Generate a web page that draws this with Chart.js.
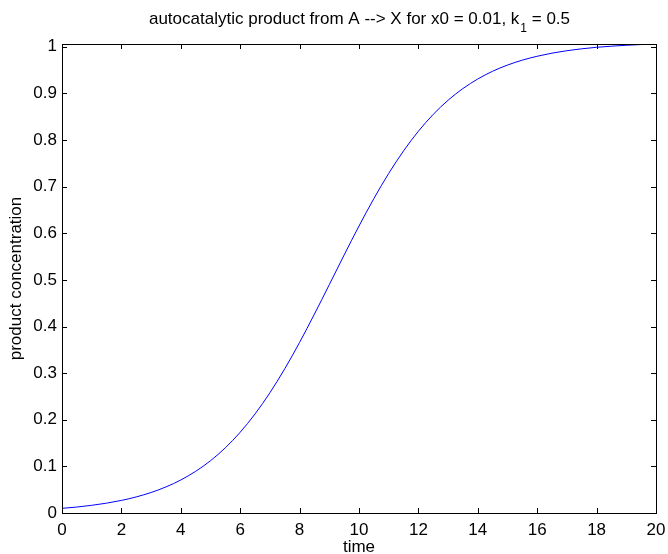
<!DOCTYPE html>
<html>
<head>
<meta charset="utf-8">
<script src="https://cdn.jsdelivr.net/npm/chart.js@4.4.1/dist/chart.umd.min.js"></script>
<style>
html,body{margin:0;padding:0;background:#fff;}
#wrap{width:668px;height:554px;position:relative;}
</style>
</head>
<body>
<div id="wrap"><canvas id="c" width="668" height="554"></canvas></div>
<script>
const timeValues = [0,0.5,1,1.5,2,2.5,3,3.5,4,4.5,5,5.5,6,6.5,7,7.5,8,8.5,9,9.5,10,10.5,11,11.5,12,12.5,13,13.5,14,14.5,15,15.5,16,16.5,17,17.5,18,18.5,19,19.5,20];
const productValues = [0.0100,0.0128,0.0165,0.0211,0.0270,0.0345,0.0440,0.0559,0.0708,0.0894,0.1121,0.1399,0.1732,0.2125,0.2579,0.3093,0.3659,0.4267,0.4898,0.5534,0.6155,0.6743,0.7283,0.7766,0.8189,0.8550,0.8853,0.9104,0.9309,0.9475,0.9607,0.9713,0.9796,0.9863,0.9915,0.9956,0.9988,1.0012,1.0032,1.0047,1.0059];
const xTicks = [0,2,4,6,8,10,12,14,16,18,20];
const yTicks = [0,0.1,0.2,0.3,0.4,0.5,0.6,0.7,0.8,0.9,1];
const titleMain = "autocatalytic product from A --> X for x0 = 0.01, k";
const titleSub = "1";
const titleEnd = " = 0.5";
const xLabel = "time";
const yLabel = "product concentration";

const FONT = "'Liberation Sans', Arial, sans-serif";
const points = timeValues.map((t,i)=>({x:t,y:productValues[i]}));

const framePlugin = {
  id:'frame',
  afterDraw(chart){
    const {ctx, chartArea:a, scales} = chart;
    ctx.save();
    ctx.strokeStyle = '#000';
    ctx.lineWidth = 1;
    ctx.beginPath();
    const L = 5;
    xTicks.forEach(v=>{
      const px = Math.round(scales.x.getPixelForValue(v))+0.5;
      ctx.moveTo(px, a.bottom); ctx.lineTo(px, a.bottom-L);
      ctx.moveTo(px, a.top); ctx.lineTo(px, a.top+L);
    });
    yTicks.forEach(v=>{
      const py = Math.round(scales.y.getPixelForValue(v))+0.5;
      ctx.moveTo(a.left, py); ctx.lineTo(a.left+L, py);
      ctx.moveTo(a.right, py); ctx.lineTo(a.right-L, py);
    });
    ctx.stroke();
    ctx.strokeRect(Math.round(a.left)+0.5, Math.round(a.top)+0.5, Math.round(a.right-a.left), Math.round(a.bottom-a.top));
    // title
    ctx.fillStyle = '#000';
    ctx.font = "17px " + FONT;
    ctx.textBaseline = 'alphabetic';
    const w1 = ctx.measureText(titleMain).width;
    ctx.font = "12px " + FONT;
    const w2 = ctx.measureText(titleSub).width;
    ctx.font = "17px " + FONT;
    const w3 = ctx.measureText(titleEnd).width;
    const total = w1 + w2 + w3;
    let x0 = (a.left + a.right)/2 - total/2;
    const by = 24;
    ctx.textAlign = 'left';
    ctx.fillText(titleMain, x0, by);
    ctx.font = "12px " + FONT;
    ctx.fillText(titleSub, x0 + w1 + 1, by + 8);
    ctx.font = "17px " + FONT;
    ctx.fillText(titleEnd, x0 + w1 + w2 + 1, by);
    ctx.restore();
  }
};

new Chart(document.getElementById('c'), {
  type:'line',
  data:{datasets:[{data:points, borderColor:'#0000ff', borderWidth:1, pointRadius:0, tension:0.4, cubicInterpolationMode:'monotone', fill:false}]},
  options:{
    responsive:false,
    animation:false,
    layout:{padding:{left:0,right:12,top:44,bottom:0}},
    plugins:{legend:{display:false}, tooltip:{enabled:false}, title:{display:false}},
    scales:{
      x:{type:'linear', min:0, max:20,
        grid:{display:false, drawTicks:false},
        border:{display:false},
        afterBuildTicks(s){ s.ticks = xTicks.map(v=>({value:v})); },
        afterFit(s){ s.height = 41; s.paddingRight = 0; s.paddingLeft = 0; },
        ticks:{color:'#000', padding:7, font:{family:FONT, size:17}, maxRotation:0, autoSkip:false},
        title:{display:true, text:xLabel, color:'#000', font:{family:FONT, size:17, lineHeight:1}, padding:{top:0,bottom:-2}}
      },
      y:{type:'linear', min:0, max:1.0059,
        grid:{display:false, drawTicks:false},
        border:{display:false},
        afterBuildTicks(s){ s.ticks = yTicks.map(v=>({value:v})); },
        afterFit(s){ s.width = 62; },
        ticks:{color:'#000', padding:5, font:{family:FONT, size:17}, autoSkip:false,
          callback:(v)=>String(Math.round(v*10)/10)},
        title:{display:true, text:yLabel, color:'#000', font:{family:FONT, size:17, lineHeight:1}, padding:{top:8,bottom:0}}
      }
    }
  },
  plugins:[framePlugin]
});
</script>
</body>
</html>
